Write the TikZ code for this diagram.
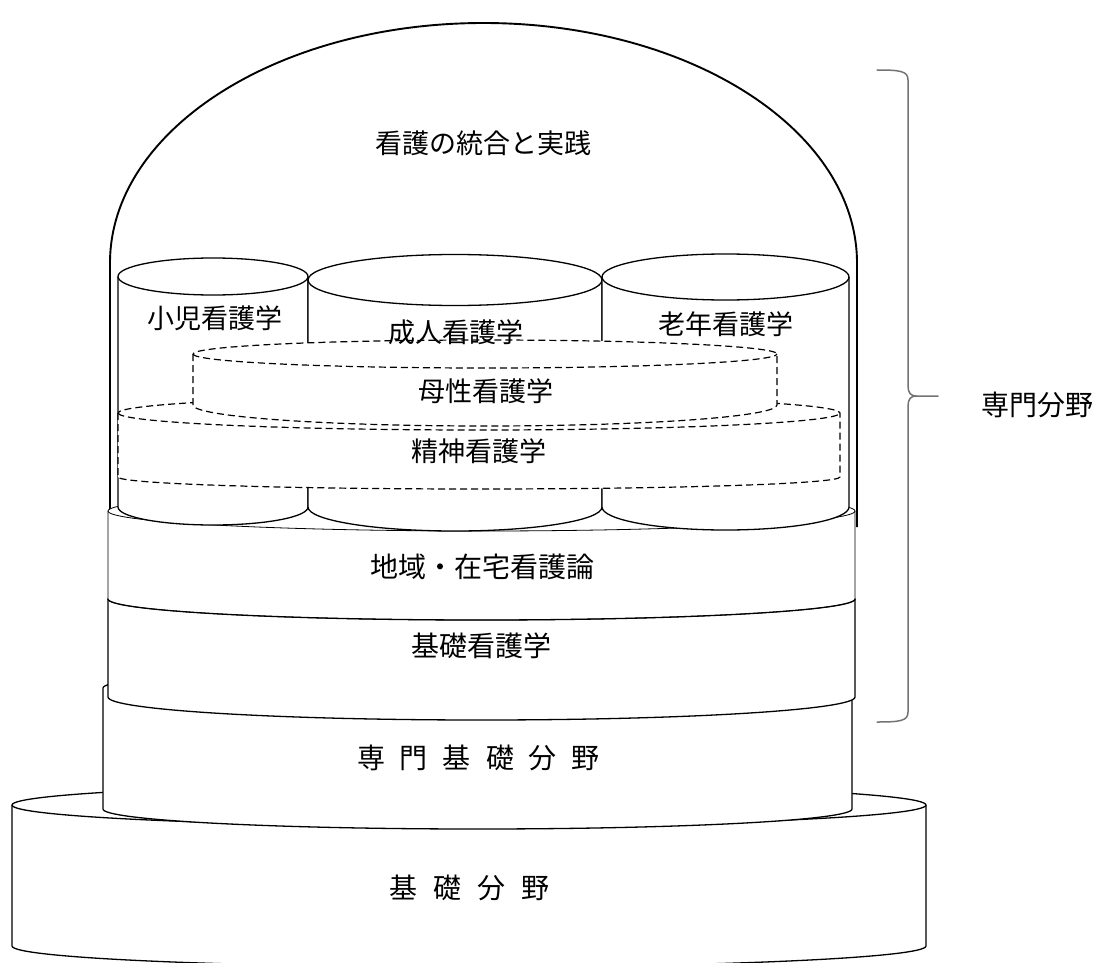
\documentclass[tikz,border=0pt]{standalone}
\usepackage{fontspec}
\newfontfamily\jp{Noto Sans CJK JP}
\begin{document}
\begin{tikzpicture}[x=1pt,y=-1pt, line join=round,
  ln/.style={line width=1.3pt, draw=black},
  dsh/.style={line width=1.2pt, draw=black, dash pattern=on 7pt off 4pt},
  lbl/.style={font=\jp\fontsize{27}{30}\selectfont, inner sep=0pt},
  lblb/.style={font=\jp\fontsize{28}{31}\selectfont, inner sep=0pt}]
\useasboundingbox (0,0) rectangle (1097,963);

% dome
\filldraw[fill=white, line width=1.9pt] (110,515) -- (110,263)
  arc[start angle=180,end angle=0,x radius=373.5pt,y radius=240pt] -- (857,527);

% base: 基礎分野
\filldraw[fill=white, ln] (12,805) -- (12,946)
  arc[start angle=180,end angle=360,x radius=457pt,y radius=21pt] -- (926,805)
  arc[start angle=0,end angle=180,x radius=457pt,y radius=21pt] -- cycle;
\draw[ln] (12,805) arc[start angle=180,end angle=360,x radius=457pt,y radius=21pt];

% 専門基礎分野
\filldraw[fill=white, ln] (103,688) -- (103,809)
  arc[start angle=180,end angle=360,x radius=374.5pt,y radius=20pt] -- (852,688)
  arc[start angle=0,end angle=180,x radius=374.5pt,y radius=20pt] -- cycle;

% 基礎看護学
\filldraw[fill=white, ln] (108,599) -- (108,697)
  arc[start angle=180,end angle=360,x radius=373.5pt,y radius=23pt] -- (855,599)
  arc[start angle=0,end angle=180,x radius=373.5pt,y radius=21pt] -- cycle;

% 地域・在宅看護論
\filldraw[fill=white, line width=0.8pt] (108,511) -- (108,599)
  arc[start angle=180,end angle=360,x radius=373.5pt,y radius=21pt] -- (855,511)
  arc[start angle=0,end angle=180,x radius=373.5pt,y radius=20pt] -- cycle;
\draw[ln] (108,599) arc[start angle=180,end angle=360,x radius=373.5pt,y radius=21pt];
\draw[line width=0.8pt] (108,511) arc[start angle=180,end angle=360,x radius=373.5pt,y radius=20pt];

% solid cylinders
\filldraw[fill=white, ln] (118,276.5) -- (118,507)
  arc[start angle=180,end angle=360,x radius=95pt,y radius=18pt] -- (308,276.5)
  arc[start angle=0,end angle=180,x radius=95pt,y radius=18.5pt] -- cycle;
\draw[ln] (118,276.5) arc[start angle=180,end angle=360,x radius=95pt,y radius=18.5pt];

\filldraw[fill=white, ln] (308,280) -- (308,507)
  arc[start angle=180,end angle=360,x radius=147pt,y radius=24pt] -- (602,280)
  arc[start angle=0,end angle=180,x radius=147pt,y radius=25.5pt] -- cycle;
\draw[ln] (308,280) arc[start angle=180,end angle=360,x radius=147pt,y radius=25.5pt];

\filldraw[fill=white, ln] (602,277) -- (602,507)
  arc[start angle=180,end angle=360,x radius=123.5pt,y radius=23pt] -- (849,277)
  arc[start angle=0,end angle=180,x radius=123.5pt,y radius=23pt] -- cycle;
\draw[ln] (602,277) arc[start angle=180,end angle=360,x radius=123.5pt,y radius=23pt];

% dashed cylinder 精神
\filldraw[fill=white, dsh] (118,413) -- (118,477)
  arc[start angle=180,end angle=360,x radius=361pt,y radius=12pt] -- (840,413)
  arc[start angle=0,end angle=180,x radius=361pt,y radius=17pt] -- cycle;
\draw[dsh] (118,413) arc[start angle=180,end angle=360,x radius=361pt,y radius=17pt];

% dashed cylinder 母性
\filldraw[fill=white, dsh] (193,354) -- (193,405)
  arc[start angle=180,end angle=360,x radius=292pt,y radius=21pt] -- (777,354)
  arc[start angle=0,end angle=180,x radius=292pt,y radius=14pt] -- cycle;
\draw[dsh] (193,354) arc[start angle=180,end angle=360,x radius=292pt,y radius=14pt];

% brace
\draw[line width=1.5pt, draw=black!55, line cap=round]
  (877,70) .. controls (900,70) and (908,71) .. (908,80) -- (908,386)
  .. controls (908,393) and (911,396) .. (916,396) -- (938,396);
\draw[line width=1.5pt, draw=black!55, line cap=round]
  (916,396) .. controls (911,396) and (908,399) .. (908,406) -- (908,712)
  .. controls (908,721) and (900,722) .. (877,722);

% labels
\node[lbl] (tougou) at (483.5,143.5) {看護の統合と実践};
\node[lbl] (shouni) at (214.5,318) {小児看護学};
\node[lbl] (seijin) at (455.5,332) {成人看護学};
\node[lbl] (rounen) at (725.5,324) {老年看護学};
\node[lbl] (bosei) at (486,391) {母性看護学};
\node[lbl] (seishin) at (479,451) {精神看護学};
\node[lblb] (chiiki) at (482.5,566.5) {地域・在宅看護論};
\node[lblb] (kiso) at (481.5,646) {基礎看護学};
\node[lblb] (senmonkiso) at (478.5,758) {専\kern15pt 門\kern15pt 基\kern15pt 礎\kern15pt 分\kern15pt 野};
\node[lblb] (kisobunya) at (469.5,888) {基\kern16pt 礎\kern16pt 分\kern16pt 野};
\node[lblb] (senmon) at (1037,405) {専門分野};
\end{tikzpicture}
\end{document}
